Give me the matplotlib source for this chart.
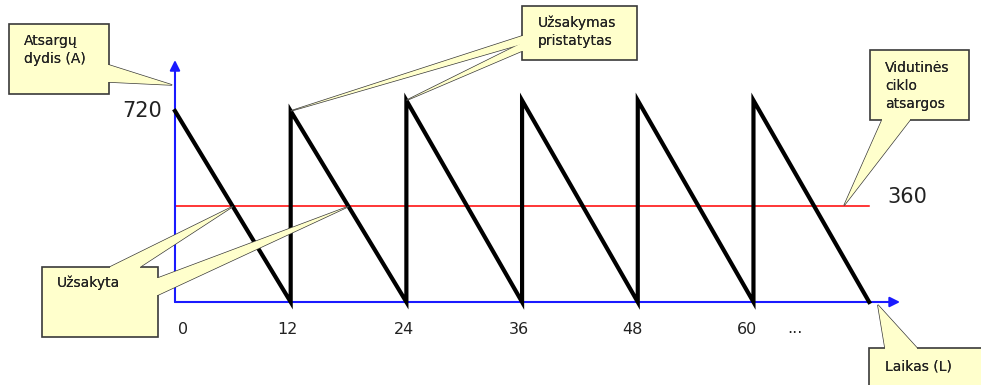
import matplotlib
matplotlib.use("Agg")
import matplotlib.pyplot as plt
from matplotlib.patches import Polygon, Rectangle
from matplotlib.transforms import IdentityTransform

# Inventory sawtooth data
cycle_starts = [0, 12, 24, 36, 48, 60]
peaks = [720, 720, 760, 760, 760, 760]
cycle_len = 12
mean_level = 360
tick_values = [0, 12, 24, 36, 48, 60]
tick_labels = ["0", "12", "24", "36", "48", "60"]

W, H = 981, 385
fig = plt.figure(figsize=(W / 100, H / 100), dpi=100)
ax = fig.add_axes([0, 0, 1, 1])
ax.set_xlim(-18.15, 83.6)
ax.set_ylim(-312.9, 1138.4)
ax.axis("off")

# build sawtooth line
xs, ys = [], []
for s, p in zip(cycle_starts, peaks):
    xs += [s, s + cycle_len]
    ys += [p, 0]
ax.plot(xs, ys, color="black", lw=3, solid_joinstyle="miter", zorder=3)

end_x = cycle_starts[-1] + cycle_len
ax.plot([0, end_x], [mean_level, mean_level], color="red", lw=1.1, zorder=2)

# axes with arrows
blue = "#1a1aff"
ax.annotate("", xy=(end_x + 3.2, 0), xytext=(0, 0),
            arrowprops=dict(arrowstyle="-|>", color=blue, lw=1.5, mutation_scale=15, shrinkA=0, shrinkB=0), zorder=2)
ax.annotate("", xy=(0, 912), xytext=(0, 0),
            arrowprops=dict(arrowstyle="-|>", color=blue, lw=1.5, mutation_scale=15, shrinkA=0, shrinkB=0), zorder=2)

ax.annotate(str(peaks[0]), xy=(0, peaks[0]), xytext=(-9, 0), textcoords="offset points",
            ha="right", va="center", fontsize=15, color="#222222")
ax.annotate(str(mean_level), xy=(end_x, mean_level), xytext=(13, 7), textcoords="offset points",
            ha="left", va="center", fontsize=15, color="#222222")

offsets = [6, -2, -2, -2, -4, -5]
for v, lab, dx in zip(tick_values, tick_labels, offsets):
    ax.annotate(lab, xy=(v, 0), xytext=(dx, -20), textcoords="offset points",
                ha="center", va="center", fontsize=11.5, color="#222222")
ax.annotate("...", xy=(tick_values[-1], 0), xytext=(30, -19), textcoords="offset points",
            ha="center", va="center", fontsize=11.5, color="#222222")


def to_px(x, y):
    dx, dy = ax.transData.transform((x, y))
    return dx, H - dy


def disp(pts):
    return [(x, H - y) for x, y in pts]


fill = "#ffffcc"
edge = "#3a3a3a"


def callout(box, wedges, text, tx, ty):
    l, t, r, b = box
    inner = 3
    for side, a, c, tip in wedges:
        if side == "left":
            base = [(l, a), (l, c)]
            ext = [(l + inner, a), (l + inner, c)]
        elif side == "right":
            base = [(r, a), (r, c)]
            ext = [(r - inner, a), (r - inner, c)]
        elif side == "top":
            base = [(a, t), (c, t)]
            ext = [(a, t + inner), (c, t + inner)]
        else:
            base = [(a, b), (c, b)]
            ext = [(a, b - inner), (c, b - inner)]
        fig.patches.append(Polygon(disp([base[0], tip, base[1]]), closed=True, fc=fill, ec=edge,
                                   lw=1, transform=IdentityTransform(), zorder=5))
        fig.patches.append(Polygon(disp([ext[0], base[0], tip, base[1], ext[1]]), closed=True, fc=fill,
                                   ec="none", transform=IdentityTransform(), zorder=7))
    fig.patches.append(Rectangle((l, H - b), r - l, b - t, fc=fill, ec=edge, lw=1.2,
                                 transform=IdentityTransform(), zorder=6))
    fig.texts.append(fig.text(tx, H - ty, text, transform=IdentityTransform(), fontsize=10,
                              color="#222222", ha="left", va="top", linespacing=1.35, zorder=8))


callout((9, 24, 109, 94), [("right", 65, 82, to_px(-0.3, 818))], "Atsargų\ndydis (A)", 24, 34)
callout((522, 6, 637, 60),
        [("left", 36, 44, to_px(cycle_starts[1], peaks[1])),
         ("left", 43, 51, to_px(cycle_starts[2], peaks[2]))],
        "Užsakymas\npristatytas", 538, 16)
callout((870, 50, 969, 120), [("bottom", 882, 910, to_px(69.4, mean_level + 4))],
        "Vidutinės\nciklo\natsargos", 885, 61)
callout((42, 267, 158, 337),
        [("top", 110, 140, to_px(cycle_len / 2, mean_level)),
         ("right", 278, 295, to_px(cycle_starts[1] + cycle_len / 2, mean_level))],
        "Užsakyta", 57, 276)
callout((869, 348, 995, 400), [("top", 885, 917, to_px(end_x + 0.9, -11))], "Laikas (L)", 885, 360)

fig.savefig("out.png", dpi=100)
